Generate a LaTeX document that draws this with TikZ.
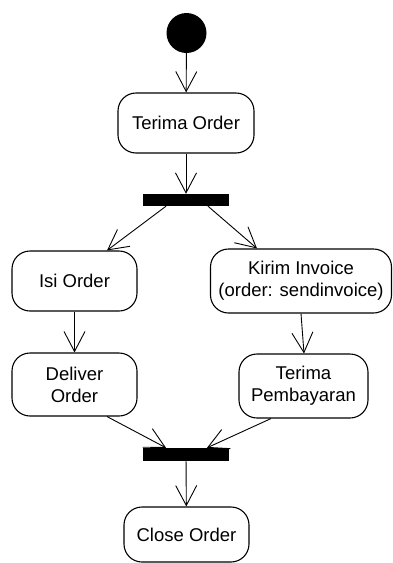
\documentclass[tikz,border=0pt]{standalone}
\usepackage{fontspec}
\setmainfont{Liberation Sans}
\usetikzlibrary{arrows.meta}

\begin{document}
\begin{tikzpicture}[x=1pt, y=-1pt, >={Straight Barb[length=20pt,width=21pt]},
  activity/.style={draw, line width=1.1pt, rounded corners=18pt, align=center,
    inner sep=0pt, font=\fontsize{18.5}{22}\selectfont},
  bar/.style={fill=black, draw=none, inner sep=0pt, minimum width=86pt},
  flow/.style={->, line width=0.9pt}]
  \useasboundingbox (0,0) rectangle (393,563);

  % Start point
  \node[circle, fill=black, minimum size=40pt, inner sep=0pt] (start) at (186.5,33) {};
  \node[activity, minimum width=136pt, minimum height=60pt] (terima) at (186,123) {Terima Order};

  % Fork
  \node[bar, minimum height=12pt] (fork) at (186,200) {};

  % Left branch
  \node[activity, minimum width=125pt, minimum height=60pt] (isi) at (74.5,281) {Isi Order};
  \node[activity, minimum width=125pt, minimum height=63pt] (deliver) at (74.5,384.5) {Deliver\\Order};

  % Right branch
  \node[activity, minimum width=181pt, minimum height=64pt] (kirim) at (301,281) {Kirim Invoice\\(order: sendinvoice)};
  \node[activity, minimum width=129pt, minimum height=64pt] (bayar) at (303.5,386) {Terima\\Pembayaran};

  % Join and end
  \node[bar, minimum height=13pt] (join) at (186,454.5) {};
  \node[activity, minimum width=125pt, minimum height=55pt] (close) at (186.5,534.5) {Close Order};

  % Flows
  \draw[flow] (start) -- (terima);
  \draw[flow] (terima) -- (fork);
  \draw[flow] ([xshift=-20pt]fork.south) -- ([xshift=32.5pt]isi.north);
  \draw[flow] ([xshift=22pt]fork.south) -- ([xshift=-44pt]kirim.north);
  \draw[flow] (isi) -- (deliver);
  \draw[flow] (kirim.south) -- ([xshift=0.5pt]bayar.north);
  \draw[flow] ([xshift=32.5pt]deliver.south) -- ([xshift=-20pt]join.north);
  \draw[flow] ([xshift=-32.5pt]bayar.south) -- ([xshift=21pt]join.north);
  \draw[flow] (join) -- (close);
\end{tikzpicture}
\end{document}
